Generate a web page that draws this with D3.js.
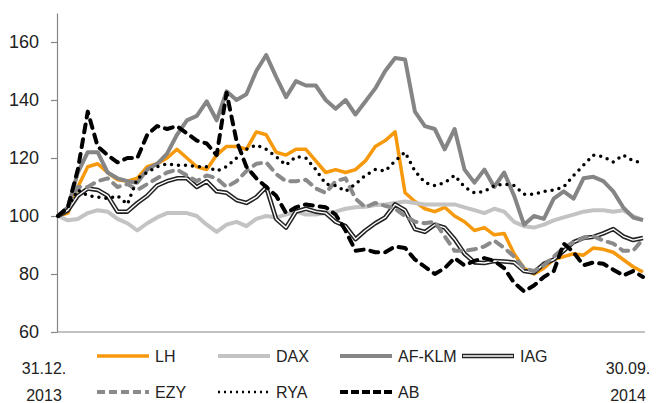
<!DOCTYPE html>
<html>
<head>
<meta charset="utf-8">
<script src="https://cdn.jsdelivr.net/npm/d3@7"></script>
<style>
  body { margin: 0; background: #fff; }
  text { font-family: "Liberation Sans", Arial, sans-serif; fill: #222; }
</style>
</head>
<body>
<script>
// index values, 31.12.2013 = 100, sampled evenly up to 30.09.2014
const lh = [100,101,110,117,118,115,112.5,112,113,117, 118,120,123,120,117,116,121,124,124,123,
  129,128,122,121,123,123,119,115,116,115, 116,119,124,126,129,108,105,102.5,101.5,103,
  100,98,95,96,93.5,94,87,82,80,82, 85,86,87,86.5,89,88.5,87.5,85,82.5,80.7];
const dax = [100,98.5,99,101,102,101.5,99,97.5,95,97.5, 99.5,101,101,101,100,97,94.5,97,98,96.5,
  99,100,99.5,100.5,101.5,100.5,100.5,101,101.5,102.5, 103,103.2,103.8,104,104.5,105,104.5,104,104,104,
  104,103,102,101,102.5,101.5,98,96.5,96,97, 98.5,99.5,100.5,101.5,102,102,101.5,102,100,98.6];
const afklm = [100,103,115,122,122,115,113,112,111.5,116, 118,121.5,128,133,134.5,139.5,133,143,140,142,
  150,155.5,148,141,146.5,145,145,140,137,140, 135,139.5,144,150,154.5,154,136,131,130,123,
  130,116,111.5,116,110,115,107,97,100,99, 106,108.5,106,113,113.5,112,108.5,103,99.5,98.6];
const iag = [100,102,107,109.5,109,107,101.5,101.5,104.5,107, 110.5,112,113,113,110,112,108.5,108,105.5,104.5,
  106.5,110,99,96,101.5,102.5,101.5,101,98,96.5, 92,95,97.5,99.5,104,102,95.5,94.5,97,96,
  92,87,84,83.8,84.5,84.3,84,81,80.5,83.5, 85,88,91,92.4,92.8,94,95.5,93,91.7,92.4];
const ezy = [100,103,110,110,112,113,110,111,109,111, 113,115,116,114,112,114,113,110,112,115.5,
  118,118.5,114.5,112,112,112.5,109.5,108,112,113, 106,103,104.5,103.5,102.5,100,98,97.5,98,93,
  88,88,88.5,89.5,91.5,89,86,82,81,83, 86,89,91,92.5,93,91.5,90.5,88,88,92];
const rya = [100,103,109,107,106.5,106,107,104,113,115, 117,118,117.5,117.5,117,117,115.5,117,120,123,
  124.5,123,120.5,117.5,120.5,120,116,111,110.5,108.5, 111,114,116,115.5,119,122,115.5,111.5,110.5,111.5,
  114,110,108,108.5,110.5,111,110.5,107.5,107.5,108.5, 109,110,114,117.5,121,120.5,118.6,121,119,118.3];
const ab = [100,103,116,136,124,121,118.5,120,120,128, 131,130,131,128.5,126,125,121,142.5,126,117,
  113,110,107,101,103,104,103.5,103,100.5,95, 88,88.5,87.5,87.5,89.5,89,85,82.5,80,82,
  85.5,83,84.5,85.5,84.5,82,77,74,76,79, 81,90.5,87.5,83,84,83.5,81.5,79.5,81,79];

const seriesNames = ["LH", "DAX", "AF-KLM", "IAG", "EZY", "RYA", "AB"];
const yTicks = [60, 80, 100, 120, 140, 160];
const startLabel = ["31.12.", "2013"];
const endLabel = ["30.09.", "2014"];

const styles = {
  "LH":     { color: "#f7990d", width: 3.5, dash: null },
  "DAX":    { color: "#c3c3c3", width: 4, dash: null },
  "AF-KLM": { color: "#858585", width: 4, dash: null },
  "IAG":    { color: "#222", width: 4.5, dash: null, inner: true },
  "EZY":    { color: "#8a8a8a", width: 4, dash: "8,7", cap: "round" },
  "RYA":    { color: "#000", width: 3.5, dash: "0,7", cap: "round" },
  "AB":     { color: "#000", width: 4, dash: "8,7", cap: "round" }
};

const w = 659, h = 403;
const plotLeft = 57, plotRight = 645, plotTop = 13, plotBottom = 332;

const series = [lh, dax, afklm, iag, ezy, rya, ab].map((v, i) => ({ name: seriesNames[i], values: v }));

const svg = d3.select("body").append("svg").attr("width", w).attr("height", h);

const x = d3.scaleLinear().domain([0, lh.length - 1]).range([58, 643]);
const y = d3.scaleLinear().domain([60, 170]).range([plotBottom, plotTop]);

// y axis
const yAxis = d3.axisLeft(y).tickValues(yTicks).tickSize(6).tickSizeOuter(0).tickPadding(12);
const gy = svg.append("g").attr("transform", "translate(" + plotLeft + ",0)").call(yAxis);
gy.select(".domain").attr("stroke", "#868686").attr("stroke-width", 1.2);
gy.selectAll(".tick line").attr("stroke", "#868686").attr("stroke-width", 1.2);
gy.selectAll(".tick text").style("font-size", "18px").attr("fill", "#222");

// x axis line
svg.append("line")
  .attr("x1", plotLeft).attr("x2", plotRight)
  .attr("y1", y(60)).attr("y2", y(60))
  .attr("stroke", "#868686").attr("stroke-width", 1.2);

const line = d3.line().x((d, i) => x(i)).y(d => y(d));

series.forEach(s => {
  const st = styles[s.name];
  const p = svg.append("path")
    .attr("d", line(s.values))
    .attr("fill", "none")
    .attr("stroke", st.color)
    .attr("stroke-width", st.width)
    .attr("stroke-linejoin", "round")
    .attr("stroke-linecap", st.cap || "butt");
  if (st.dash) p.attr("stroke-dasharray", st.dash);
  if (st.inner) {
    svg.append("path")
      .attr("d", line(s.values))
      .attr("fill", "none")
      .attr("stroke", "#fff")
      .attr("stroke-width", 1.4)
      .attr("stroke-linejoin", "round");
  }
});

// legend
const legendPos = [[97, 356], [218, 356], [340, 356], [462, 356], [97, 392], [218, 392], [340, 392]];
const legendDash = { "EZY": "8,4", "RYA": "2,4", "AB": "8,3" };
const legend = svg.append("g");
seriesNames.forEach((name, i) => {
  const st = styles[name];
  const [lx, ly] = legendPos[i];
  const l = legend.append("line")
    .attr("x1", lx).attr("x2", lx + 52)
    .attr("y1", ly).attr("y2", ly)
    .attr("stroke", st.color)
    .attr("stroke-width", name === "RYA" ? 2.5 : st.width);
  if (legendDash[name]) l.attr("stroke-dasharray", legendDash[name]);
  if (st.inner) {
    legend.append("line")
      .attr("x1", lx + 1).attr("x2", lx + 51)
      .attr("y1", ly).attr("y2", ly)
      .attr("stroke", "#fff").attr("stroke-width", 1.4);
  }
  legend.append("text")
    .attr("x", lx + 58).attr("y", ly + 6)
    .style("font-size", "16px")
    .text(name);
});

// x labels
[[startLabel, 44], [endLabel, 628]].forEach(([lab, cx]) => {
  svg.append("text").attr("x", cx).attr("y", 374).attr("text-anchor", "middle")
    .style("font-size", "16px").text(lab[0]);
  svg.append("text").attr("x", cx).attr("y", 401).attr("text-anchor", "middle")
    .style("font-size", "16px").text(lab[1]);
});
</script>
</body>
</html>
